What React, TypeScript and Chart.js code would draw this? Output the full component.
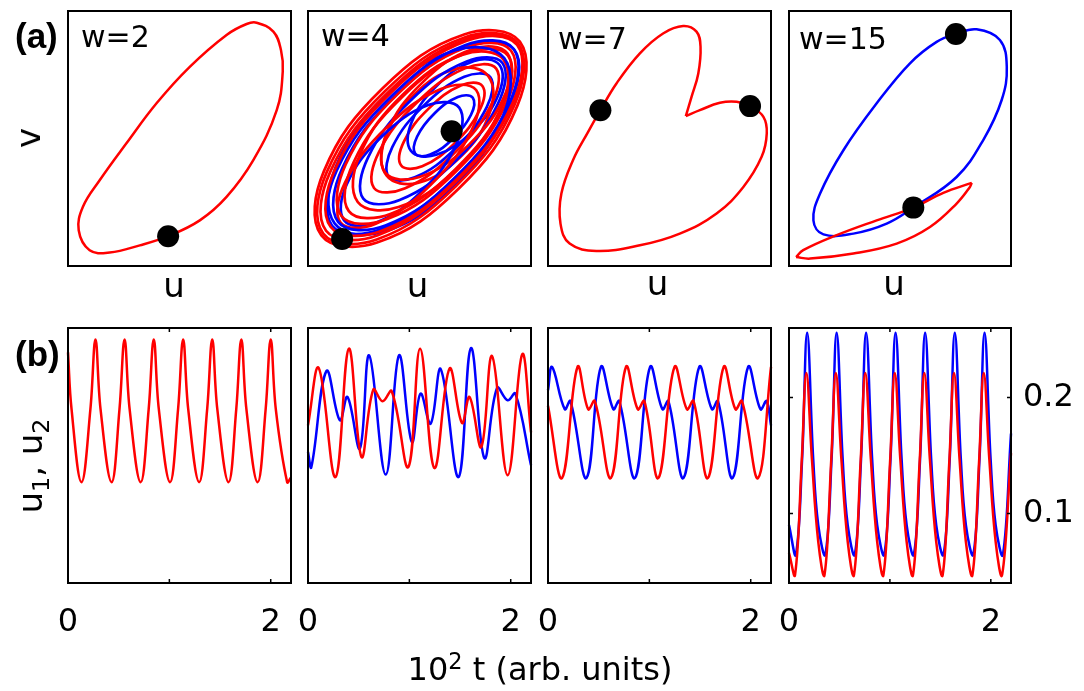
import React, { useEffect, useRef } from "react";
import { Chart, registerables } from "chart.js";

Chart.register(...registerables);

type Pt = [number, number];

// ---------- (a) phase portraits: u (horizontal) and v (vertical), panel-relative units ----------
// closed loops are listed once around (the library closes them)
const a1Red: Pt[] = [
  [0.142, 0.336], [0.262, 0.481], [0.397, 0.638], [0.546, 0.781], [0.711, 0.906], [0.801, 0.949],
  [0.846, 0.954], [0.921, 0.919], [0.955, 0.847], [0.963, 0.762], [0.936, 0.611], [0.831, 0.415],
  [0.711, 0.271], [0.591, 0.179], [0.449, 0.117], [0.322, 0.081], [0.187, 0.053], [0.097, 0.062],
  [0.048, 0.140], [0.067, 0.232],
];
const a1Dots: Pt[] = [[0.449, 0.117]];

const a2RedLoop1: Pt[] = [[0.336, 0.698], [0.071, 0.371], [0.060, 0.120], [0.310, 0.092], [0.674, 0.302], [0.939, 0.629], [0.950, 0.880], [0.700, 0.908]];
const a2RedLoop2: Pt[] = [[0.346, 0.686], [0.084, 0.368], [0.068, 0.127], [0.308, 0.104], [0.664, 0.314], [0.926, 0.632], [0.942, 0.873], [0.702, 0.896]];
const a2RedLoop3: Pt[] = [[0.359, 0.681], [0.100, 0.370], [0.081, 0.138], [0.313, 0.121], [0.661, 0.329], [0.920, 0.640], [0.939, 0.872], [0.707, 0.889]];
const a2RedLoop4: Pt[] = [[0.420, 0.661], [0.203, 0.404], [0.183, 0.215], [0.372, 0.205], [0.660, 0.379], [0.877, 0.636], [0.897, 0.825], [0.708, 0.835]];
const a2RedLoop5: Pt[] = [[0.486, 0.639], [0.317, 0.445], [0.296, 0.306], [0.436, 0.305], [0.654, 0.441], [0.823, 0.635], [0.844, 0.774], [0.704, 0.775]];
const a2RedLoop6: Pt[] = [[0.542, 0.618], [0.430, 0.488], [0.418, 0.394], [0.512, 0.391], [0.658, 0.482], [0.770, 0.612], [0.782, 0.706], [0.688, 0.709]];
const a2RedLoop7: Pt[] = [[0.374, 0.681], [0.121, 0.379], [0.102, 0.153], [0.328, 0.137], [0.666, 0.339], [0.919, 0.642], [0.938, 0.867], [0.712, 0.883]];
const a2RedLoop8: Pt[] = [[0.516, 0.722], [0.353, 0.521], [0.346, 0.366], [0.500, 0.349], [0.724, 0.478], [0.887, 0.679], [0.894, 0.834], [0.740, 0.851]];
const a2RedLoop9: Pt[] = [[0.353, 0.544], [0.166, 0.327], [0.146, 0.170], [0.304, 0.166], [0.547, 0.316], [0.734, 0.533], [0.754, 0.690], [0.596, 0.694]];
const a2RedLoop10: Pt[] = [[0.476, 0.672], [0.345, 0.498], [0.352, 0.355], [0.492, 0.326], [0.684, 0.428], [0.815, 0.602], [0.808, 0.745], [0.668, 0.774]];
const a2RedLoop11: Pt[] = [[0.400, 0.672], [0.169, 0.398], [0.150, 0.196], [0.353, 0.183], [0.660, 0.368], [0.891, 0.642], [0.910, 0.845], [0.707, 0.857]];
const a2RedLoop12: Pt[] = [[0.427, 0.674], [0.232, 0.435], [0.223, 0.251], [0.406, 0.231], [0.673, 0.386], [0.868, 0.625], [0.877, 0.809], [0.694, 0.829]];
const a2BlueLoop1: Pt[] = [[0.394, 0.670], [0.154, 0.384], [0.135, 0.173], [0.347, 0.159], [0.666, 0.350], [0.906, 0.636], [0.925, 0.848], [0.713, 0.862]];
const a2BlueLoop2: Pt[] = [[0.459, 0.648], [0.269, 0.425], [0.248, 0.264], [0.411, 0.259], [0.661, 0.412], [0.851, 0.635], [0.872, 0.796], [0.709, 0.801]];
const a2BlueLoop3: Pt[] = [[0.519, 0.629], [0.378, 0.466], [0.362, 0.350], [0.479, 0.348], [0.661, 0.461], [0.802, 0.624], [0.818, 0.740], [0.701, 0.742]];
const a2BlueLoop4: Pt[] = [[0.568, 0.599], [0.489, 0.507], [0.481, 0.440], [0.548, 0.437], [0.652, 0.501], [0.731, 0.593], [0.739, 0.660], [0.672, 0.663]];
const a2BlueLoop5: Pt[] = [[0.329, 0.506], [0.173, 0.319], [0.162, 0.179], [0.302, 0.169], [0.511, 0.294], [0.667, 0.481], [0.678, 0.621], [0.539, 0.631]];
const a2BlueLoop6: Pt[] = [[0.582, 0.711], [0.465, 0.565], [0.462, 0.451], [0.575, 0.436], [0.738, 0.529], [0.855, 0.675], [0.858, 0.789], [0.745, 0.804]];
const a2BlueLoop7: Pt[] = [[0.348, 0.669], [0.124, 0.387], [0.120, 0.166], [0.339, 0.134], [0.653, 0.311], [0.877, 0.593], [0.880, 0.815], [0.661, 0.846]];
const a2BlueLoop8: Pt[] = [[0.376, 0.668], [0.129, 0.375], [0.108, 0.158], [0.326, 0.144], [0.654, 0.342], [0.901, 0.635], [0.922, 0.852], [0.704, 0.866]];
const a2Dots: Pt[] = [[0.644, 0.528], [0.153, 0.106]];

const a3Red: Pt[] = [
  [0.618, 0.588], [0.681, 0.611], [0.771, 0.640], [0.846, 0.644], [0.906, 0.627], [0.966, 0.585],
  [0.981, 0.520], [0.958, 0.428], [0.876, 0.310], [0.756, 0.206], [0.591, 0.127], [0.412, 0.081],
  [0.217, 0.059], [0.097, 0.088], [0.056, 0.166], [0.060, 0.284], [0.112, 0.415], [0.180, 0.526],
  [0.235, 0.611], [0.307, 0.716], [0.412, 0.834], [0.516, 0.912], [0.606, 0.941], [0.666, 0.919],
  [0.684, 0.860], [0.674, 0.755], [0.644, 0.664], [0.618, 0.588],
];
const a3Dots: Pt[] = [[0.235, 0.611], [0.906, 0.627]];

const a4Blue: Pt[] = [
  [0.140, 0.284], [0.245, 0.454], [0.395, 0.638], [0.545, 0.795], [0.665, 0.879], [0.752, 0.910],
  [0.845, 0.928], [0.950, 0.886], [0.981, 0.781], [0.958, 0.651], [0.875, 0.494], [0.755, 0.349],
  [0.560, 0.229], [0.440, 0.166], [0.290, 0.127], [0.155, 0.124], [0.110, 0.179],
];
const a4RedUpper: Pt[] = [[0.823, 0.326], [0.695, 0.287], [0.560, 0.229], [0.395, 0.179], [0.215, 0.121], [0.064, 0.062], [0.032, 0.035]];
const a4RedLower: Pt[] = [[0.032, 0.035], [0.095, 0.029], [0.290, 0.049], [0.485, 0.088], [0.635, 0.153], [0.755, 0.245], [0.815, 0.310], [0.823, 0.326]];
const a4Dots: Pt[] = [[0.752, 0.910], [0.560, 0.229]];

// ---------- (b) time series: t in units of 10^2, u1 (blue), u2 (red) ----------
const tTickValues = [0, 1, 2];
const tTickLabels = ["0", "", "2"];
const uTickValues = [0.1, 0.2];
const uTickLabels = ["0.1", "0.2"];

const b1Red: Pt[] = [
  [0, 0.239], [0.035, 0.19], [0.133, 0.127], [0.221, 0.19], [0.271, 0.25], [0.321, 0.19], [0.43, 0.127],
  [0.508, 0.19], [0.558, 0.25], [0.608, 0.19], [0.717, 0.127], [0.796, 0.19], [0.846, 0.25], [0.896, 0.19],
  [1.007, 0.127], [1.086, 0.19], [1.136, 0.25], [1.186, 0.19], [1.294, 0.127], [1.373, 0.19], [1.423, 0.25],
  [1.473, 0.19], [1.584, 0.127], [1.66, 0.19], [1.71, 0.25], [1.76, 0.19], [1.871, 0.127], [1.95, 0.19],
  [2.0, 0.25], [2.05, 0.19], [2.162, 0.127], [2.2, 0.131],
];

const b2Red: Pt[] = [
  [0, 0.176], [0.106, 0.2255], [0.271, 0.1314], [0.403, 0.2422], [0.528, 0.1487], [0.644, 0.2068],
  [0.736, 0.1968], [0.826, 0.2054], [0.99, 0.14], [1.106, 0.242], [1.247, 0.1392], [1.396, 0.225],
  [1.519, 0.178], [1.594, 0.2005], [1.71, 0.1573], [1.816, 0.2358], [1.97, 0.133], [2.113, 0.2373], [2.2, 0.17],
];
const b2Blue: Pt[] = [
  [0, 0.153], [0.033, 0.14], [0.182, 0.2229], [0.314, 0.1804], [0.39, 0.2005], [0.512, 0.156],
  [0.604, 0.2364], [0.767, 0.1335], [0.898, 0.2364], [1.024, 0.1617], [1.11, 0.2034], [1.21, 0.1775],
  [1.31, 0.2244], [1.485, 0.1314], [1.608, 0.2427], [1.74, 0.1478], [1.865, 0.2082], [1.97, 0.1976],
  [2.046, 0.2034], [2.2, 0.1415],
];

const b3Red: Pt[] = [
  [0, 0.193], [0.139, 0.1306], [0.291, 0.2264], [0.396, 0.1899], [0.462, 0.197], [0.621, 0.1306],
  [0.769, 0.2264], [0.885, 0.1899], [0.951, 0.197], [1.089, 0.1306], [1.248, 0.2264], [1.37, 0.1899],
  [1.436, 0.197], [1.578, 0.1306], [1.733, 0.2264], [1.849, 0.1899], [1.914, 0.197], [2.073, 0.1306], [2.2, 0.2264],
];
const b3Blue: Pt[] = [
  [0, 0.2063], [0.04, 0.2264], [0.165, 0.1899], [0.221, 0.197], [0.38, 0.1306], [0.522, 0.2264],
  [0.644, 0.1899], [0.703, 0.197], [0.858, 0.1306], [1.007, 0.2264], [1.129, 0.1899], [1.188, 0.197],
  [1.337, 0.1306], [1.492, 0.2264], [1.617, 0.1899], [1.677, 0.197], [1.822, 0.1306], [1.974, 0.2264],
  [2.096, 0.1899], [2.156, 0.197], [2.2, 0.176],
];

const b4Blue: Pt[] = [
  [0, 0.09], [0.068, 0.0645], [0.13, 0.147], [0.18, 0.256], [0.24, 0.147], [0.29, 0.09],
  [0.36, 0.0645], [0.422, 0.147], [0.472, 0.256], [0.532, 0.147], [0.582, 0.09],
  [0.652, 0.0645], [0.714, 0.147], [0.764, 0.256], [0.824, 0.147], [0.874, 0.09],
  [0.944, 0.0645], [1.006, 0.147], [1.056, 0.256], [1.116, 0.147], [1.166, 0.09],
  [1.237, 0.0645], [1.299, 0.147], [1.349, 0.256], [1.409, 0.147], [1.459, 0.09],
  [1.531, 0.0645], [1.593, 0.147], [1.643, 0.256], [1.703, 0.147], [1.753, 0.09],
  [1.826, 0.0645], [1.888, 0.147], [1.938, 0.256], [1.998, 0.147], [2.048, 0.09],
  [2.12, 0.0645], [2.2, 0.169],
];
const b4Red: Pt[] = [
  [0, 0.066], [0.06, 0.047], [0.127, 0.147], [0.172, 0.2212], [0.227, 0.147], [0.29, 0.0754],
  [0.352, 0.047], [0.419, 0.147], [0.464, 0.2212], [0.519, 0.147], [0.582, 0.0754],
  [0.644, 0.047], [0.711, 0.147], [0.756, 0.2212], [0.811, 0.147], [0.874, 0.0754],
  [0.936, 0.047], [1.003, 0.147], [1.048, 0.2212], [1.103, 0.147], [1.166, 0.0754],
  [1.229, 0.047], [1.296, 0.147], [1.341, 0.2212], [1.396, 0.147], [1.459, 0.0754],
  [1.523, 0.047], [1.59, 0.147], [1.635, 0.2212], [1.69, 0.147], [1.753, 0.0754],
  [1.818, 0.047], [1.885, 0.147], [1.93, 0.2212], [1.985, 0.147], [2.048, 0.0754],
  [2.112, 0.047], [2.2, 0.152],
];

// ---------- layout & style ----------
const RED = "#ff0000";
const BLUE = "#0000ff";
const FONT_D = '"DejaVu Sans", sans-serif';
const FONT_L = '"Liberation Sans", Arial, sans-serif';
const COL_LEFT = [68, 308, 548, 789];
const COL_W = [223, 223, 223, 222];
const ROW_TOP = [11, 328];
const PANEL_H = 255;
const PAD = 40;
const XAXIS_H = 70;
const YAXIS_W = 80;
const LINE_W = 2.5;
const A2W = 2.7;

interface Series { data: Pt[]; color?: string; dots?: boolean; closed?: boolean; width?: number; order: number }
interface Spec {
  col: number; row: number;
  x: [number, number]; y: [number, number];
  xAxis: boolean; yAxis: boolean;
  series: Series[];
}

const phase: [number, number] = [0, 1];
const tRange: [number, number] = [0, 2.2];
const uRange: [number, number] = [0.04, 0.26];

const a2Order: [Pt[], string][] = [
  [a2RedLoop1, RED], [a2RedLoop2, RED], [a2RedLoop3, RED], [a2RedLoop7, RED],
  [a2BlueLoop8, BLUE], [a2BlueLoop7, BLUE], [a2RedLoop11, RED], [a2BlueLoop1, BLUE],
  [a2RedLoop9, RED], [a2RedLoop12, RED], [a2RedLoop4, RED], [a2BlueLoop5, BLUE],
  [a2RedLoop8, RED], [a2BlueLoop2, BLUE], [a2RedLoop10, RED], [a2RedLoop5, RED],
  [a2BlueLoop6, BLUE], [a2BlueLoop3, BLUE], [a2RedLoop6, RED], [a2BlueLoop4, BLUE],
];

const SPECS: Spec[] = [
  { col: 0, row: 0, x: phase, y: phase, xAxis: false, yAxis: false, series: [
    { data: a1Dots, dots: true, order: 0 }, { data: a1Red, color: RED, closed: true, order: 1 } ] },
  { col: 1, row: 0, x: phase, y: phase, xAxis: false, yAxis: false, series: [
    { data: a2Dots, dots: true, order: 0 },
    ...a2Order.map(([d, c], i) => ({ data: d, color: c, closed: true, width: A2W, order: i + 1 })) ] },
  { col: 2, row: 0, x: phase, y: phase, xAxis: false, yAxis: false, series: [
    { data: a3Dots, dots: true, order: 0 }, { data: a3Red, color: RED, order: 1 } ] },
  { col: 3, row: 0, x: phase, y: phase, xAxis: false, yAxis: false, series: [
    { data: a4Dots, dots: true, order: 0 },
    { data: a4RedUpper, color: RED, order: 1 },
    { data: a4RedLower, color: RED, order: 2 },
    { data: a4Blue, color: BLUE, closed: true, order: 3 } ] },
  { col: 0, row: 1, x: tRange, y: uRange, xAxis: true, yAxis: false, series: [
    { data: b1Red, color: RED, order: 1 } ] },
  { col: 1, row: 1, x: tRange, y: uRange, xAxis: true, yAxis: false, series: [
    { data: b2Red, color: RED, order: 1 }, { data: b2Blue, color: BLUE, order: 2 } ] },
  { col: 2, row: 1, x: tRange, y: uRange, xAxis: true, yAxis: false, series: [
    { data: b3Red, color: RED, order: 1 }, { data: b3Blue, color: BLUE, order: 2 } ] },
  { col: 3, row: 1, x: tRange, y: uRange, xAxis: true, yAxis: true, series: [
    { data: b4Red, color: RED, order: 1 }, { data: b4Blue, color: BLUE, order: 2 } ] },
];

// closes flagged datasets into smooth loops (same mechanism the radar chart uses)
const loopPlugin = {
  id: "closedLoops",
  beforeDatasetsDraw(chart: any) {
    chart.data.datasets.forEach((ds: any, i: number) => {
      if (!ds.closed) return;
      const line: any = chart.getDatasetMeta(i).dataset;
      if (!line) return;
      line._loop = true;
      line._fullLoop = true;
      delete line._segments;
      delete line._path;
      line._pointsUpdated = false;
    });
  },
};

const framePlugin = {
  id: "frame",
  afterDraw(chart: any, _args: any, opts: any) {
    const { ctx, chartArea: a } = chart;
    ctx.save();
    ctx.strokeStyle = "#000";
    ctx.lineWidth = 2;
    ctx.strokeRect(a.left, a.top, a.right - a.left, a.bottom - a.top);
    ctx.lineWidth = 1.5;
    const TL = 4;
    if (opts.xTicks) {
      const sx = chart.scales.x;
      for (const t of sx.ticks) {
        const p = sx.getPixelForValue(t.value);
        if (p <= a.left + 1 || p >= a.right - 1) continue;
        ctx.beginPath();
        ctx.moveTo(p, a.bottom); ctx.lineTo(p, a.bottom - TL);
        ctx.moveTo(p, a.top); ctx.lineTo(p, a.top + TL);
        ctx.stroke();
      }
    }
    if (opts.yTicks) {
      const sy = chart.scales.y;
      for (const t of sy.ticks) {
        const p = sy.getPixelForValue(t.value);
        if (p <= a.top + 1 || p >= a.bottom - 1) continue;
        ctx.beginPath();
        ctx.moveTo(a.left, p); ctx.lineTo(a.left + TL, p);
        ctx.moveTo(a.right, p); ctx.lineTo(a.right - TL, p);
        ctx.stroke();
      }
    }
    ctx.restore();
  },
};

function Panel({ spec }: { spec: Spec }) {
  const ref = useRef<HTMLCanvasElement>(null);
  const padR = spec.yAxis ? 0 : PAD;
  const padB = spec.xAxis ? 0 : PAD;
  const w = PAD + COL_W[spec.col] + (spec.yAxis ? YAXIS_W : padR);
  const h = PAD + PANEL_H + (spec.xAxis ? XAXIS_H : padB);
  const left = COL_LEFT[spec.col] - PAD;
  const top = ROW_TOP[spec.row] - PAD;

  useEffect(() => {
    const datasets = spec.series.map((s) =>
      s.dots
        ? {
            type: "line",
            data: s.data.map(([x, y]) => ({ x, y })),
            showLine: false,
            pointRadius: 11,
            pointHoverRadius: 11,
            pointBackgroundColor: "#000",
            pointBorderColor: "#000",
            pointBorderWidth: 0,
            backgroundColor: "#000",
            borderColor: "#000",
            order: s.order,
            clip: false as any,
          }
        : {
            type: "line",
            closed: !!s.closed,
            data: s.data.map(([x, y]) => ({ x, y })),
            showLine: true,
            borderColor: s.color,
            backgroundColor: s.color,
            borderWidth: s.width ?? LINE_W,
            pointRadius: 0,
            pointHoverRadius: 0,
            tension: 0.4,
            fill: false,
            order: s.order,
            clip: false as any,
          }
    );
    const chart = new Chart(ref.current as HTMLCanvasElement, {
      type: "line",
      data: { datasets: datasets as any },
      options: {
        responsive: false,
        maintainAspectRatio: false,
        animation: false,
        devicePixelRatio: 1,
        events: [],
        layout: { padding: { left: PAD, top: PAD, right: padR, bottom: padB } },
        plugins: {
          legend: { display: false },
          tooltip: { enabled: false },
          frame: { xTicks: spec.xAxis, yTicks: spec.yAxis },
        } as any,
        scales: {
          x: {
            type: "linear",
            min: spec.x[0],
            max: spec.x[1],
            display: spec.xAxis,
            grid: { display: false, drawTicks: false },
            border: { display: false },
            afterBuildTicks: (s: any) => {
              if (spec.xAxis) s.ticks = tTickValues.map((v) => ({ value: v }));
            },
            afterFit: (s: any) => {
              if (spec.xAxis) s.height = XAXIS_H;
            },
            ticks: {
              autoSkip: false,
              maxRotation: 0,
              minRotation: 0,
              padding: 20,
              color: "#000",
              font: { family: "DejaVu Sans", size: 32 },
              callback: (_v: any, i: number) => tTickLabels[i] ?? "",
            },
          },
          y: {
            type: "linear",
            position: "right",
            min: spec.y[0],
            max: spec.y[1],
            display: spec.yAxis,
            grid: { display: false, drawTicks: false },
            border: { display: false },
            afterBuildTicks: (s: any) => {
              if (spec.yAxis) s.ticks = uTickValues.map((v) => ({ value: v }));
            },
            afterFit: (s: any) => {
              if (spec.yAxis) s.width = YAXIS_W;
            },
            ticks: {
              autoSkip: false,
              padding: 12,
              color: "#000",
              font: { family: "DejaVu Sans", size: 32 },
              callback: (_v: any, i: number) => uTickLabels[i] ?? "",
            },
          },
        },
      },
      plugins: [loopPlugin, framePlugin],
    });
    return () => chart.destroy();
  }, []);

  return (
    <canvas
      ref={ref}
      width={w}
      height={h}
      style={{ position: "absolute", left, top, width: w, height: h }}
    />
  );
}

function Txt(props: { x: number; base: number; size: number; family?: string; bold?: boolean; center?: boolean; children: React.ReactNode }) {
  const { x, base, size, family = FONT_D, bold = false, center = false, children } = props;
  return (
    <div
      style={{
        position: "absolute",
        left: x,
        top: base - 0.846 * size,
        fontFamily: family,
        fontSize: size,
        fontWeight: bold ? 700 : 400,
        lineHeight: `${size}px`,
        whiteSpace: "nowrap",
        color: "#000",
        transform: center ? "translateX(-50%)" : undefined,
      }}
    >
      {children}
    </div>
  );
}

function VTxt(props: { cx: number; cy: number; size: number; children: React.ReactNode }) {
  const { cx, cy, size, children } = props;
  return (
    <div
      style={{
        position: "absolute",
        left: cx,
        top: cy,
        fontFamily: FONT_D,
        fontSize: size,
        lineHeight: `${size}px`,
        whiteSpace: "nowrap",
        color: "#000",
        transform: "translate(-50%, -50%) rotate(-90deg)",
      }}
    >
      {children}
    </div>
  );
}

const subStyle: React.CSSProperties = { fontSize: "0.7em", position: "relative", top: "0.3em" };
const supStyle: React.CSSProperties = { fontSize: "0.7em", position: "relative", top: "-0.5em" };

export default function App() {
  return (
    <div style={{ position: "absolute", left: 0, top: 0, width: 1084, height: 691, background: "#fff", overflow: "hidden" }}>
      {SPECS.map((s, i) => (
        <Panel key={i} spec={s} />
      ))}
      <Txt x={15} base={47.5} size={35} family={FONT_L} bold>(a)</Txt>
      <Txt x={15} base={366} size={35} family={FONT_L} bold>(b)</Txt>
      <Txt x={81} base={47} size={30}>w=2</Txt>
      <Txt x={321} base={46.5} size={30}>w=4</Txt>
      <Txt x={558} base={49.5} size={30}>w=7</Txt>
      <Txt x={799} base={49.5} size={30}>w=15</Txt>
      <Txt x={174} base={296.5} size={34} center>u</Txt>
      <Txt x={417.5} base={296.5} size={34} center>u</Txt>
      <Txt x={657.5} base={295} size={34} center>u</Txt>
      <Txt x={894} base={295} size={34} center>u</Txt>
      <VTxt cx={27.5} cy={137.5} size={34}>v</VTxt>
      <VTxt cx={32} cy={466} size={34}>
        u<span style={subStyle}>1</span>, u<span style={subStyle}>2</span>
      </VTxt>
      <Txt x={540} base={680} size={32} center>
        10<span style={supStyle}>2</span> t (arb. units)
      </Txt>
    </div>
  );
}
